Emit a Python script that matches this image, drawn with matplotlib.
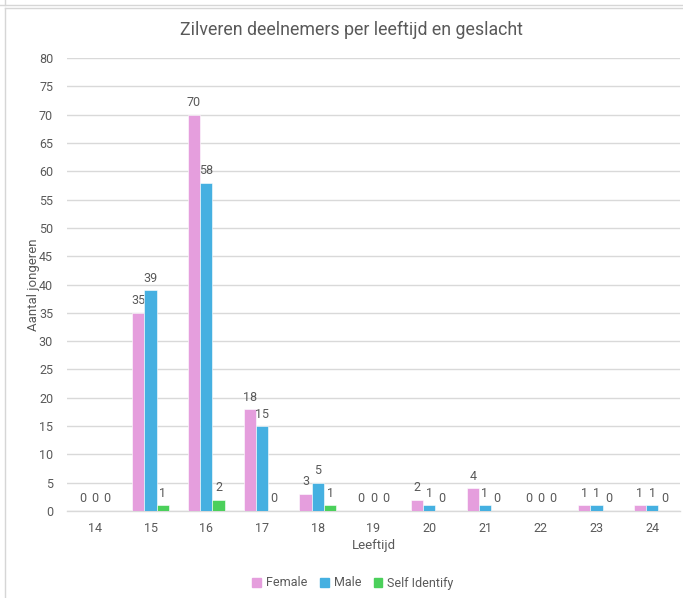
import matplotlib
matplotlib.use("Agg")
import matplotlib.pyplot as plt
import numpy as np
from matplotlib.lines import Line2D

plt.rcParams['font.family'] = ['Roboto', 'DejaVu Sans']

ages = ["14", "15", "16", "17", "18", "19", "20", "21", "22", "23", "24"]
female = [0, 35, 70, 18, 3, 0, 2, 4, 0, 1, 1]
male = [0, 39, 58, 15, 5, 0, 1, 1, 0, 1, 1]
self_identify = [0, 1, 2, 0, 1, 0, 0, 0, 0, 0, 0]
series_names = ["Female", "Male", "Self Identify"]
colors = ["#E59EDD", "#45B0E1", "#4BD05B"]

W, H = 683, 598
fig = plt.figure(figsize=(W / 100, H / 100), dpi=100)
ax = fig.add_axes([67 / W, (H - 511) / H, (680 - 67) / W, (511 - 58) / H])

x = np.arange(len(ages))
bw = 0.22
text_col = "#595959"
for i, (vals, name, col) in enumerate(zip([female, male, self_identify], series_names, colors)):
    bars = ax.bar(x + (i - 1) * bw, vals, bw, color=col, label=name,
                  edgecolor="white", linewidth=0.4, zorder=3)
    ax.bar_label(bars, labels=[str(v) for v in vals], padding=4,
                 fontsize=9, color=text_col)

ax.set_xlim(-0.5, len(ages) - 0.5)
ax.set_ylim(0, 80)
ax.set_yticks(np.arange(0, 81, 5))
ax.set_xticks(x)
ax.set_xticklabels(ages)
ax.tick_params(axis="both", length=0, labelsize=9, labelcolor=text_col)
ax.tick_params(axis="y", pad=10)
ax.tick_params(axis="x", pad=8)
ax.grid(axis="y", color="#D9D9D9", linewidth=1, zorder=0)
ax.set_axisbelow(True)
for s in ["top", "right", "left"]:
    ax.spines[s].set_visible(False)
ax.spines["bottom"].set_color("#D9D9D9")
ax.spines["bottom"].set_linewidth(1)

ax.set_ylabel("Aantal jongeren", fontsize=9.5, color=text_col)
ax.yaxis.set_label_coords((33 - 67) / 613, 0.5)
ax.set_xlabel("Leeftijd", fontsize=9.5, color=text_col)
ax.xaxis.set_label_coords(0.5, -(546 - 511) / 453)
ax.xaxis.label.set_va("center")
ax.yaxis.label.set_va("center")
fig.text(351 / W, 1 - 30 / H, "Zilveren deelnemers per leeftijd en geslacht",
         ha="center", va="center", fontsize=12.8, color=text_col)

handles = [plt.Rectangle((0, 0), 1, 1, color=c) for c in colors]
fig.legend(handles, series_names, loc="center", bbox_to_anchor=(353 / W, 1 - 583 / H),
           ncol=3, frameon=False, fontsize=9, labelcolor=text_col,
           handlelength=0.7, handleheight=0.7, handletextpad=0.4, columnspacing=1.0)

# chart borders
border = "#D6D6D6"
fig.add_artist(Line2D([0, 1], [1 - 5 / H, 1 - 5 / H], transform=fig.transFigure, color=border, lw=1))
fig.add_artist(Line2D([5 / W, 1], [1 - 8 / H, 1 - 8 / H], transform=fig.transFigure, color=border, lw=1))
fig.add_artist(Line2D([5 / W, 5 / W], [0, 1 - 8 / H], transform=fig.transFigure, color=border, lw=1))
fig.add_artist(Line2D([5 / W, 5 / W], [1 - 5 / H, 1], transform=fig.transFigure, color=border, lw=1))

fig.savefig("out.png", dpi=100)
